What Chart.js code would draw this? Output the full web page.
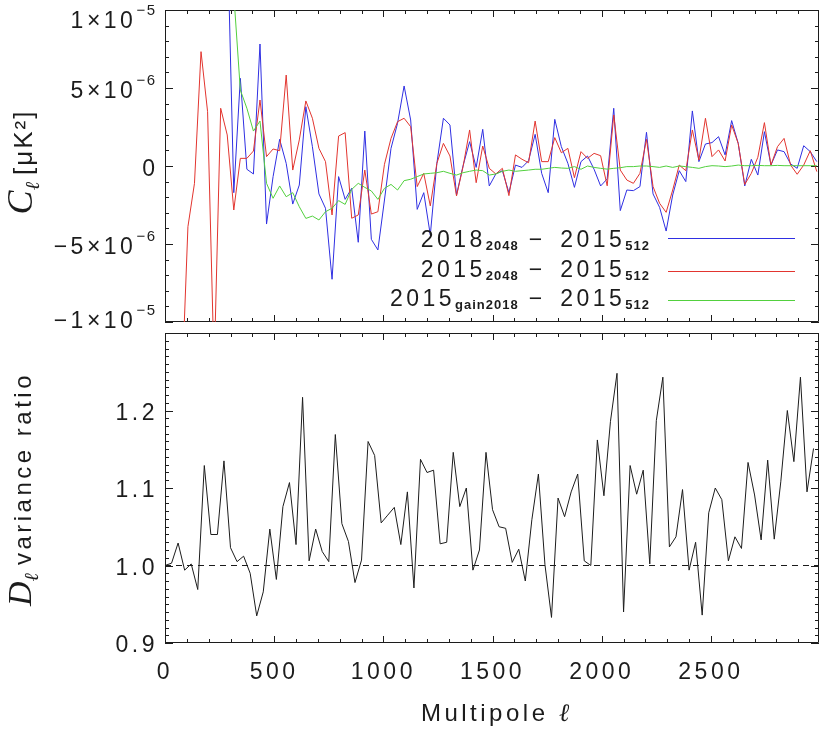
<!DOCTYPE html>
<html>
<head>
<meta charset="utf-8">
<script src="https://cdn.jsdelivr.net/npm/chart.js@4.4.1/dist/chart.umd.min.js"></script>
<style>
  body { margin: 0; background: #fff; }
  #wrap { position: relative; width: 829px; height: 734px; }
  canvas { position: absolute; left: 0; }
  #topChart { top: 0; width: 829px; height: 330px; }
  #bottomChart { top: 325px; width: 829px; height: 409px; }
</style>
</head>
<body>
<div id="wrap">
  <canvas id="topChart" width="829" height="330"></canvas>
  <canvas id="bottomChart" width="829" height="409"></canvas>
</div>
<script>
// multipole bin centres of the difference spectra (top panel)
const ellTop = [
  15, 45, 75, 105, 135, 165, 195, 225, 255, 285,
  315, 345, 375, 405, 435, 465, 495, 525, 555, 585,
  615, 645, 675, 705, 735, 765, 795, 825, 855, 885,
  915, 945, 975, 1005, 1035, 1065, 1095, 1125, 1155, 1185,
  1215, 1245, 1275, 1305, 1335, 1365, 1395, 1425, 1455, 1485,
  1515, 1545, 1575, 1605, 1635, 1665, 1695, 1725, 1755, 1785,
  1815, 1845, 1875, 1905, 1935, 1965, 1995, 2025, 2055, 2085,
  2115, 2145, 2175, 2205, 2235, 2265, 2295, 2325, 2355, 2385,
  2415, 2445, 2475, 2505, 2535, 2565, 2595, 2625, 2655, 2685,
  2715, 2745, 2775, 2805, 2835, 2865, 2895, 2925, 2955, 2985
];
// multipoles of the variance ratio (bottom panel)
const ellBottom = [
  0, 30, 60, 90, 120, 150, 180, 210, 240, 270,
  300, 330, 360, 390, 420, 450, 480, 510, 540, 570,
  600, 630, 660, 690, 720, 750, 780, 810, 840, 870,
  900, 930, 960, 990, 1020, 1050, 1080, 1110, 1140, 1170,
  1200, 1230, 1260, 1290, 1320, 1350, 1380, 1410, 1440, 1470,
  1500, 1530, 1560, 1590, 1620, 1650, 1680, 1710, 1740, 1770,
  1800, 1830, 1860, 1890, 1920, 1950, 1980, 2010, 2040, 2070,
  2100, 2130, 2160, 2190, 2220, 2250, 2280, 2310, 2340, 2370,
  2400, 2430, 2460, 2490, 2520, 2550, 2580, 2610, 2640, 2670,
  2700, 2730, 2760, 2790, 2820, 2850, 2880, 2910, 2940, 2970
];

// C_l differences, in units of 1e-6 muK^2 (null = off the plot, unreadable)
const diff2018 = [
  null, null, null, null, null, null, null, null, null, 15.4,
  -1.71, 5.62, -0.21, -0.51, 7.82, -3.72, -0.68, 1.71, 0.17, -2.44,
  -1.22, 3.80, 1.24, -1.79, -2.71, -7.26, -0.68, -2.14, -1.43, -4.89,
  2.24, -4.70, -5.38, -2.18, 1.13, 2.74, 5.13, 2.95, -2.78, -1.71,
  -4.42, 0.17, 3.06, 2.63, -1.86, 0.02, 1.56, -0.09, 2.35, -1.28,
  -0.51, -0.30, -1.71, 0.06, -0.09, 0.34, 2.03, -0.47, -1.71, 2.99,
  1.24, 0.17, -1.37, 0.28, 0.64, -0.21, -1.28, -0.83, 3.70, -2.86,
  -1.54, -1.58, -1.32, 2.16, -1.79, -2.65, -4.17, -1.86, -0.30, -1.00,
  3.53, 0.28, 1.41, 1.50, 1.88, 0.71, 2.91, 1.45, -1.28, 0.43,
  -0.58, 2.20, 0.06, 1.03, 0.92, 0.13, -0.15, 1.30, 0.92, 0.28
];
const diff2015 = [
  null, null, -15.0, -3.89, -1.11, 7.33, 3.48, -13.0, 3.70, 1.99,
  -2.82, 0.49, 0.49, 0.96, 4.23, 0.60, 1.09, 0.98, 5.83, -0.26,
  1.67, 4.17, 3.06, 1.13, 0.28, -3.14, 1.92, 2.14, -3.35, -3.14,
  -0.26, -3.08, -2.93, 0.11, 1.77, 2.84, 3.06, 2.52, -1.32, -0.47,
  -2.56, 0.17, 1.45, 0.64, -1.92, -0.04, 2.31, -1.07, 1.28, -0.15,
  -0.51, -0.15, -1.90, 0.71, 0.43, 0.21, 2.88, 0.28, 0.28, 1.82,
  0.85, 1.13, -0.75, 0.92, 0.49, 0.81, 0.66, -1.27, 3.27, -0.26,
  -0.90, -1.11, -0.47, 1.71, -1.32, -2.39, -2.97, -1.54, 0.06, -0.30,
  2.31, 0.38, 3.06, 0.60, 1.03, 0.32, 2.63, 1.45, -1.18, -0.47,
  0.56, 2.78, 0.06, 1.24, 1.77, 0.06, -0.53, 0.06, 0.98, -0.36
];
const diffGain = [
  null, null, null, null, null, null, null, null, null, null,
  11.0, 4.87, 3.70, 2.24, 2.88, -1.11, -2.07, -1.28, -1.97, -1.71,
  -2.61, -3.36, -3.21, -3.46, -2.93, -2.71, -2.22, -2.46, -1.50, -1.11,
  -1.37, -1.60, -2.14, -1.43, -1.18, -1.54, -0.94, -0.85, -0.68, -0.51,
  -0.47, -0.43, -0.34, -0.47, -0.58, -0.43, -0.34, -0.26, -0.30, -0.58,
  -0.51, -0.34, -0.26, -0.34, -0.30, -0.26, -0.21, -0.21, -0.15, -0.09,
  -0.13, -0.15, -0.04, -0.21, 0.00, -0.09, -0.15, -0.20, -0.15, -0.11,
  -0.04, -0.04, 0.00, 0.00, -0.04, -0.09, 0.00, -0.09, 0.00, -0.04,
  -0.09, -0.15, -0.04, 0.02, 0.00, -0.04, 0.00, 0.06, 0.02, 0.02,
  0.04, 0.02, 0.02, 0.04, 0.02, 0.02, 0.02, 0.02, 0.02, 0.02
];

// D_l variance ratio
const varRatio = [
  1.000, 1.003, 1.029, 0.994, 1.002, 0.969, 1.129, 1.040, 1.040, 1.135,
  1.023, 1.005, 1.012, 0.990, 0.935, 0.966, 1.047, 0.982, 1.076, 1.107,
  1.027, 1.217, 1.006, 1.047, 1.018, 1.005, 1.169, 1.054, 1.031, 0.978,
  1.007, 1.160, 1.142, 1.055, 1.065, 1.075, 1.027, 1.095, 0.971, 1.137,
  1.120, 1.123, 1.028, 1.030, 1.146, 1.076, 1.100, 0.994, 1.020, 1.146,
  1.072, 1.050, 1.048, 1.004, 1.021, 0.980, 1.059, 1.118, 1.001, 0.933,
  1.087, 1.063, 1.095, 1.118, 1.006, 1.000, 1.162, 1.090, 1.186, 1.248,
  0.940, 1.129, 1.092, 1.123, 1.002, 1.187, 1.243, 1.024, 1.037, 1.098,
  0.994, 1.030, 0.936, 1.068, 1.100, 1.085, 1.006, 1.037, 1.022, 1.133,
  1.091, 1.033, 1.136, 1.034, 1.108, 1.200, 1.134, 1.243, 1.095, 1.151
];
const refLine = [1.0, 1.0];
const refEll = [0, 2995];

// tick labels: top axis labels are mantissa + exponent
const topTickValues = [-10, -5, 0, 5, 10];
const topTickMantissa = ['\u22121\u00d710', '\u22125\u00d710', '0', '5\u00d710', '1\u00d710'];
const topTickExponent = ['\u22125', '\u22126', '', '\u22126', '\u22125'];
const bottomTickValues = [0.9, 1.0, 1.1, 1.2];
const bottomTickLabels = ['0.9', '1.0', '1.1', '1.2'];
const xTickValues = [0, 500, 1000, 1500, 2000, 2500];
const xTickLabels = ['0', '500', '1000', '1500', '2000', '2500'];

const legendMain = ['2018', '2015', '2015'];
const legendSub = ['2048', '2048', 'gain2018'];
const legendRefMain = '2015';
const legendRefSub = '512';

const BLUE = '#2f2fe2';
const RED = '#e2352f';
const GREEN = '#52d03e';
const INK = '#1c1c1c';
const FONT = "'Liberation Sans', Arial, sans-serif";
const SERIF = "'Liberation Serif', 'DejaVu Serif', serif";
const X_MAX = 2995;

function pts(xs, ys) {
  return xs.map((x, i) => ({ x: x, y: ys[i] }));
}

function partsWidth(ctx, parts) {
  let w = 0;
  parts.forEach(p => {
    ctx.font = p.font;
    ctx.letterSpacing = p.ls || '0px';
    w += ctx.measureText(p.t).width + (p.gap || 0);
  });
  return w;
}

function drawParts(ctx, parts, x, y) {
  parts.forEach(p => {
    ctx.font = p.font;
    ctx.letterSpacing = p.ls || '0px';
    ctx.fillText(p.t, x, y + (p.dy || 0));
    x += ctx.measureText(p.t).width + (p.gap || 0);
  });
  return x;
}

function drawVertical(ctx, parts, baseX, centerY) {
  ctx.save();
  ctx.fillStyle = INK;
  ctx.textBaseline = 'alphabetic';
  ctx.textAlign = 'left';
  ctx.translate(baseX, centerY);
  ctx.rotate(-Math.PI / 2);
  const w = partsWidth(ctx, parts);
  drawParts(ctx, parts, -w / 2, 0);
  ctx.restore();
}

// box around the plot with IDL-style inward ticks on all four sides
const framePlugin = {
  id: 'frame',
  beforeDraw(chart) {
    chart.ctx.letterSpacing = '3.5px';
  },
  beforeDatasetsDraw(chart, args, opts) {
    const { ctx, chartArea: a, scales: { x, y } } = chart;
    ctx.save();
    ctx.strokeStyle = INK;
    ctx.lineWidth = 1;
    ctx.beginPath();
    ctx.rect(a.left + 0.5, a.top + 0.5, a.right - a.left - 1, a.bottom - a.top - 1);
    for (let v = 0; v <= x.max; v += 100) {
      const px = Math.round(x.getPixelForValue(v)) + 0.5;
      const len = v % 500 === 0 ? 7 : 4;
      ctx.moveTo(px, a.bottom); ctx.lineTo(px, a.bottom - len);
      ctx.moveTo(px, a.top); ctx.lineTo(px, a.top + len);
    }
    const n = Math.round((y.max - y.min) / opts.minor);
    for (let k = 0; k <= n; k++) {
      const py = Math.round(y.getPixelForValue(y.min + k * opts.minor)) + 0.5;
      const len = k % opts.every === 0 ? 8 : 4;
      ctx.moveTo(a.left, py); ctx.lineTo(a.left + len, py);
      ctx.moveTo(a.right, py); ctx.lineTo(a.right - len, py);
    }
    ctx.stroke();
    ctx.restore();
  },
  afterDraw(chart, args, opts) {
    const ctx = chart.ctx;
    const a = chart.chartArea;
    if (opts.powerLabels) {
      // y tick labels of the form m x 10^e, placed from the y scale
      const y = chart.scales.y;
      ctx.save();
      ctx.fillStyle = INK;
      ctx.textBaseline = 'alphabetic';
      ctx.textAlign = 'left';
      topTickValues.forEach((v, i) => {
        const center = Math.min(Math.max(y.getPixelForValue(v) + 2, a.top + 10), a.bottom - 2);
        const parts = [
          { t: topTickMantissa[i], font: '23px ' + FONT, ls: '3.5px' },
          { t: topTickExponent[i], font: '15px ' + FONT, ls: '1.5px', dy: -13 }
        ];
        const w = partsWidth(ctx, parts) - (topTickExponent[i] ? 1.5 : 3.5);
        drawParts(ctx, parts, 155 - w, center + 8);
      });
      ctx.restore();
    }
    if (opts.title) drawVertical(ctx, opts.title, opts.titleX, opts.titleY);
    if (opts.legend) {
      ctx.save();
      ctx.fillStyle = INK;
      ctx.textBaseline = 'alphabetic';
      ctx.textAlign = 'left';
      opts.legend.forEach(row => {
        const w = partsWidth(ctx, row.parts);
        drawParts(ctx, row.parts, 650 - w, row.base);
        ctx.strokeStyle = row.color;
        ctx.lineWidth = 1;
        ctx.beginPath();
        ctx.moveTo(668, row.lineY + 0.5);
        ctx.lineTo(795, row.lineY + 0.5);
        ctx.stroke();
      });
      ctx.restore();
    }
    if (opts.xTitle) {
      ctx.save();
      ctx.fillStyle = INK;
      ctx.textBaseline = 'alphabetic';
      ctx.textAlign = 'left';
      const w = partsWidth(ctx, opts.xTitle);
      drawParts(ctx, opts.xTitle, (a.left + a.right) / 2 - w / 2 + 3, opts.xTitleY);
      ctx.restore();
    }
  }
};

const MAIN = '23px ' + FONT;
const SUB = 'bold 13px ' + FONT;
const legendColors = [BLUE, RED, GREEN];
const legendBase = [247, 277, 306];
const legendLineY = [238, 271, 300];
const legendRows = legendMain.map((m, k) => ({
  color: legendColors[k],
  base: legendBase[k],
  lineY: legendLineY[k],
  parts: [
    { t: m, font: MAIN, ls: '3.5px' },
    { t: legendSub[k], font: SUB, ls: '1px', dy: 3, gap: 10 },
    { t: '\u2212', font: MAIN, gap: 18 },
    { t: legendRefMain, font: MAIN, ls: '3.5px' },
    { t: legendRefSub, font: SUB, ls: '1px', dy: 3 }
  ]
}));

function yFit(scale) {
  scale.width = 165;
  scale.paddingTop = 0;
  scale.paddingBottom = 0;
}

new Chart(document.getElementById('topChart'), {
  type: 'line',
  data: {
    datasets: [
      { label: '2018_2048 - 2015_512', data: pts(ellTop, diff2018), borderColor: BLUE, order: 3 },
      { label: '2015_2048 - 2015_512', data: pts(ellTop, diff2015), borderColor: RED, order: 2 },
      { label: '2015_gain2018 - 2015_512', data: pts(ellTop, diffGain), borderColor: GREEN, order: 1 }
    ]
  },
  options: {
    responsive: false,
    animation: false,
    devicePixelRatio: 1,
    events: [],
    layout: { padding: { top: 10, right: 10, bottom: 8, left: 0 } },
    elements: {
      point: { radius: 0 },
      line: { borderWidth: 1, tension: 0 }
    },
    scales: {
      x: { type: 'linear', min: 0, max: X_MAX, display: false },
      y: {
        min: -10, max: 10,
        grid: { display: false, drawTicks: false },
        border: { display: false },
        ticks: { display: false },
        afterBuildTicks(scale) {
          scale.ticks = topTickValues.map(v => ({ value: v }));
        },
        afterFit: yFit
      }
    },
    plugins: {
      legend: { display: false },
      tooltip: { enabled: false },
      frame: {
        minor: 1, every: 5,
        powerLabels: true,
        titleX: 32, titleY: 162,
        title: [
          { t: 'C', font: 'italic 36px ' + SERIF },
          { t: '\u2113', font: 'italic 20px ' + SERIF, dy: 7, gap: 7 },
          { t: '[\u03bcK\u00b2]', font: '26px ' + FONT, ls: '2px' }
        ],
        legend: legendRows
      }
    }
  },
  plugins: [framePlugin]
});

new Chart(document.getElementById('bottomChart'), {
  type: 'line',
  data: {
    datasets: [
      { label: 'D_l variance ratio', data: pts(ellBottom, varRatio), borderColor: INK, order: 1 },
      { label: 'unity', data: pts(refEll, refLine), borderColor: INK, borderDash: [6, 5], order: 2 }
    ]
  },
  options: {
    responsive: false,
    animation: false,
    devicePixelRatio: 1,
    events: [],
    layout: { padding: { top: 8, right: 10, bottom: 0, left: 0 } },
    elements: {
      point: { radius: 0 },
      line: { borderWidth: 1, tension: 0 }
    },
    scales: {
      x: {
        type: 'linear', min: 0, max: X_MAX,
        grid: { display: false, drawTicks: false },
        border: { display: false },
        ticks: {
          autoSkip: false,
          maxRotation: 0,
          padding: 16,
          color: INK,
          font: { family: FONT, size: 23 },
          callback: (v, i) => xTickLabels[i]
        },
        afterBuildTicks(scale) {
          scale.ticks = xTickValues.map(v => ({ value: v }));
        },
        afterFit(scale) {
          scale.height = 91;
          scale.paddingLeft = 0;
          scale.paddingRight = 0;
        }
      },
      y: {
        min: 0.9, max: 1.3,
        grid: { display: false, drawTicks: false },
        border: { display: false },
        ticks: {
          padding: 7,
          labelOffset: 3,
          color: INK,
          font: { family: FONT, size: 23 },
          callback: (v, i) => bottomTickLabels[i]
        },
        afterBuildTicks(scale) {
          scale.ticks = bottomTickValues.map(v => ({ value: v }));
        },
        afterFit: yFit
      }
    },
    plugins: {
      legend: { display: false },
      tooltip: { enabled: false },
      frame: {
        minor: 0.01, every: 10,
        titleX: 31, titleY: 164,
        title: [
          { t: 'D', font: 'italic 34px ' + SERIF },
          { t: '\u2113', font: 'italic 20px ' + SERIF, dy: 7, gap: 8 },
          { t: 'variance ratio', font: '24px ' + FONT, ls: '3.5px' }
        ],
        xTitleY: 396,
        xTitle: [
          { t: 'Multipole ', font: '24px ' + FONT, ls: '3.5px' },
          { t: '\u2113', font: 'italic 25px ' + SERIF }
        ]
      }
    }
  },
  plugins: [framePlugin]
});
</script>
</body>
</html>
